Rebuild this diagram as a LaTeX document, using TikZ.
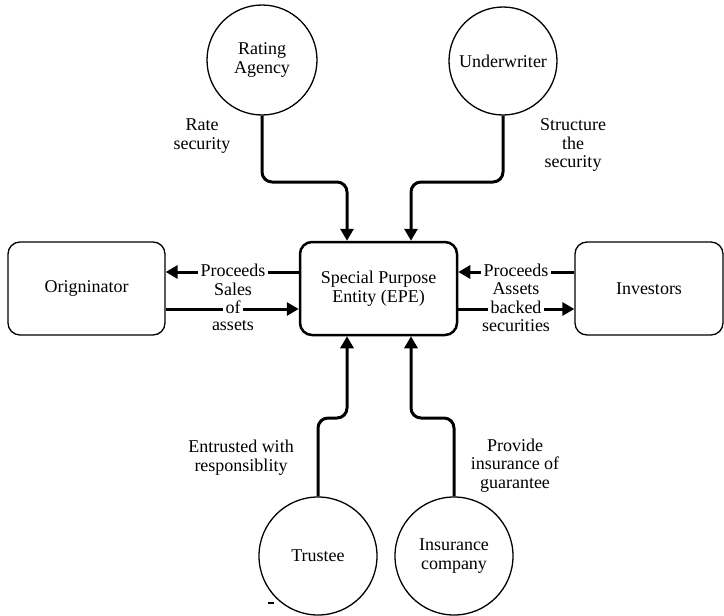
\documentclass[tikz,border=0pt]{standalone}
\usepackage{fontspec}
\setmainfont{Liberation Serif}
\newfontfamily\tnr{Liberation Serif}
\usetikzlibrary{arrows.meta}
\tikzset{
  txt/.style={font=\tnr\fontsize{18}{18.5}\selectfont, align=center, inner sep=0pt},
  circ/.style={circle, draw, line width=1.3pt, minimum size=#1, txt},
  box/.style={rectangle, draw, line width=1.3pt, rounded corners=12pt, minimum width=#1, minimum height=93pt, txt},
  conn/.style={line width=3pt, rounded corners=10pt, -{Triangle[length=12pt,width=13pt]}},
  lbl/.style={txt},
  gap/.style={txt, fill=white, inner xsep=2.5pt, inner ysep=0pt}
}
\begin{document}
\begin{tikzpicture}[x=1pt, y=-1pt]
\useasboundingbox (0,0) rectangle (724,616);
% nodes
\node[circ=110pt] (ra) at (262,60) {Rating\\Agency};
\node[circ=108pt] (uw) at (503,61) {Underwriter};
\node[box=157pt] (orig) at (86.5,288.5) {Origninator};
\node[box=157pt, line width=2.5pt] (spe) at (378.5,288.5) {Special Purpose\\Entity (EPE)};
\node[box=148pt] (inv) at (649,288.5) {Investors};
\node[circ=118pt] (tr) at (318,556) {Trustee};
\node[circ=118pt] (ins) at (454,556) {Insurance\\company};
% vertical connectors
\draw[conn] (ra.south) |- (347,182) -- (spe.north -| 347,0);
\draw[conn] (uw.south) |- (411,182) -- (spe.north -| 411,0);
\draw[conn] (tr.north) |- (347,418) -- (spe.south -| 347,0);
\draw[conn] (ins.north) |- (411,418) -- (spe.south -| 411,0);
% horizontal connectors
\draw[conn] (spe.west |- 0,272) -- (orig.east |- 0,272);
\draw[conn] (orig.east |- 0,309) -- (spe.west |- 0,309);
\draw[conn] (inv.west |- 0,272) -- (spe.east |- 0,272);
\draw[conn] (spe.east |- 0,309) -- (inv.west |- 0,309);
% labels on horizontal connectors
\node[gap] (p1) at (233,270.5) {Proceeds};
\node[lbl] (s1) at (233,289) {Sales};
\node[gap] (o1) at (233,307.5) {of};
\node[lbl] (a1) at (233,326) {assets};
\node[gap] (p2) at (516,270.5) {Proceeds};
\node[lbl] (s2) at (516,289) {Assets};
\node[gap] (b2) at (516,307.5) {backed};
\node[lbl] (c2) at (516,326) {securities};
% other labels
\node[lbl] (l1) at (202,136) {Rate\\security};
\node[lbl] (l2) at (573,145) {Structure\\the\\security};
\node[lbl] (l3) at (241,457.5) {Entrusted with\\responsiblity};
\node[lbl] (l4) at (515,465.5) {Provide\\insurance of\\guarantee};
% small dash
\draw[line width=2pt] (268,603) -- (274,603);
\end{tikzpicture}
\end{document}
